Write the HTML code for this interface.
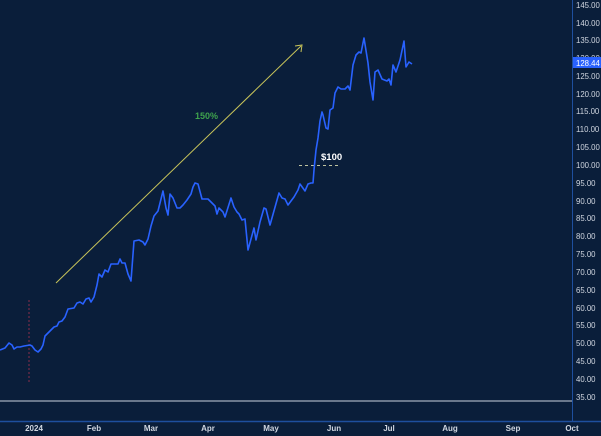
<!DOCTYPE html><html><head><style>body{margin:0;background:#0a1e3a;}svg{display:block}text{font-family:"Liberation Sans",sans-serif}</style></head><body>
<svg width="601" height="436" xmlns="http://www.w3.org/2000/svg">
<rect width="601" height="436" fill="#0a1e3a"/>
<line x1="0" y1="401" x2="572" y2="401" stroke="#8a96a8" stroke-width="1.5"/>
<line x1="0" y1="421.5" x2="601" y2="421.5" stroke="#1e4f9e" stroke-width="1.5"/>
<line x1="572.5" y1="0" x2="572.5" y2="421" stroke="#1e4f9e" stroke-width="1"/>
<g font-size="7.8" fill="#d0d6e0">
<text x="576" y="8">145.00</text><text x="576" y="26">140.00</text><text x="576" y="43">135.00</text><text x="576" y="61">130.00</text><text x="576" y="79">125.00</text><text x="576" y="97">120.00</text><text x="576" y="114">115.00</text><text x="576" y="132">110.00</text><text x="576" y="150">105.00</text><text x="576" y="168">100.00</text><text x="576" y="186">95.00</text><text x="576" y="204">90.00</text><text x="576" y="221">85.00</text><text x="576" y="239">80.00</text><text x="576" y="257">75.00</text><text x="576" y="275">70.00</text><text x="576" y="293">65.00</text><text x="576" y="311">60.00</text><text x="576" y="328">55.00</text><text x="576" y="346">50.00</text><text x="576" y="364">45.00</text><text x="576" y="382">40.00</text><text x="576" y="400">35.00</text>
</g>
<rect x="573" y="57" width="28" height="11" fill="#2962ff"/>
<text x="576" y="66" font-size="7.8" fill="#fff">128.44</text>
<g font-size="8" fill="#d0d6e0" font-weight="bold" text-anchor="middle">
<text x="34" y="431">2024</text><text x="94" y="431">Feb</text><text x="151" y="431">Mar</text><text x="208" y="431">Apr</text><text x="271" y="431">May</text><text x="334" y="431">Jun</text><text x="389" y="431">Jul</text><text x="450" y="431">Aug</text><text x="513" y="431">Sep</text><text x="572" y="431">Oct</text>
</g>
<line x1="29" y1="300" x2="29" y2="383" stroke="#8a2f4a" stroke-width="1" stroke-dasharray="2,2"/>
<line x1="56" y1="283" x2="301" y2="46" stroke="#c8c45a" stroke-width="1"/>
<polyline points="295,46 302,45 301,52" fill="none" stroke="#c8c45a" stroke-width="1"/>
<text x="195" y="119" font-size="9" font-weight="bold" fill="#3fa34d">150%</text>
<line x1="299" y1="165.5" x2="340" y2="165.5" stroke="#c0c4a0" stroke-width="1" stroke-dasharray="3,3"/>
<text x="321" y="160" font-size="9.5" font-weight="bold" fill="#fff">$100</text>
<polyline fill="none" stroke="#2962ff" stroke-width="1.6" stroke-linejoin="round" points="0,350 5,348 9,343 12,345 14,349 17,347 20,347 24,346 30,345 32,346 35,350 38,352 41,349 43,345 45,336 50,331 54,327 57,326 59,322 62,321 65,317 68,309 74,308 77,303 80,302 83,304 86,299 89,298 91,302 94,297 97,285 99,274 102,277 105,270 108,272 111,264 115,264 118,264 120,259 122,263 125,263 128,274 131,281 134,241 139,240 143,242 145,245 148,239 151,226 154,216 158,211 161,199 163,191 166,208 168,215 170,194 173,198 177,208 180,208 183,205 187,200 191,194 193,187 195,183 198,184 202,199 208,199 212,203 215,206 217,214 219,208 223,212 225,217 231,198 234,207 237,212 239,214 242,220 245,219 248,250 254,228 256,240 260,222 264,208 266,209 270,225 279,193 282,198 285,199 288,205 294,197 298,190 300,184 305,191 308,184 311,183 313,183 314,170 316,150 318,138 320,121 322,112 323,115 326,128 328,129 330,110 333,108 335,93 338,87 341,89 345,89 348,86 350,90 353,65 356,55 359,52 361,53 364,38 368,63 370,82 373,100 375,72 378,70 382,79 387,81 389,79 391,85 393,65 396,72 400,60 404,41 406,67 409,62 412,64"/>
</svg></body></html>
